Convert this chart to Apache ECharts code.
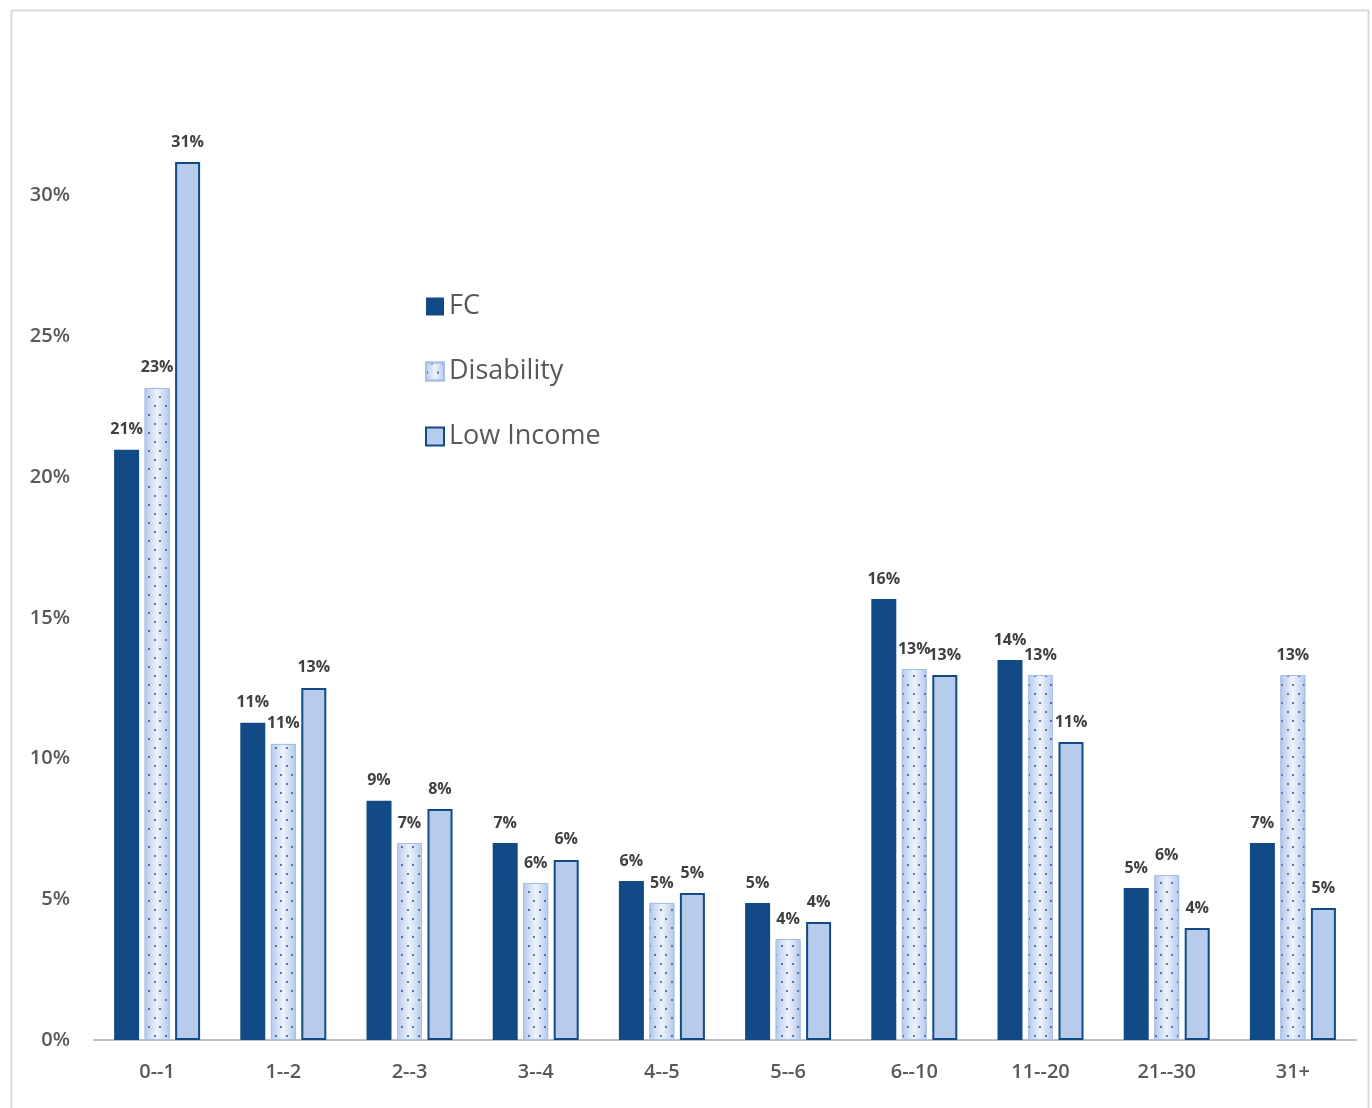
<!DOCTYPE html>
<html>
<head>
<meta charset="utf-8">
<script src="https://cdn.jsdelivr.net/npm/echarts@6/dist/echarts.min.js"></script>
<style>
  html, body { margin: 0; padding: 0; background: #fff; }
  #chart { width: 1372px; height: 1108px; }
</style>
</head>
<body>
<div id="chart"></div>
<script>
// categories (years)
var categories = ["0--1", "1--2", "2--3", "3--4", "4--5", "5--6", "6--10", "11--20", "21--30", "31+"];
// shares, in percent
var fcData = [20.97, 11.27, 8.5, 7.0, 5.65, 4.87, 15.67, 13.5, 5.4, 7.0];
var disabilityData = [23.17, 10.52, 7.0, 5.58, 4.87, 3.59, 13.18, 12.97, 5.86, 12.97];
var lowIncomeData = [31.2, 12.51, 8.21, 6.4, 5.22, 4.19, 12.97, 10.59, 3.98, 4.69];
var yTicks = [0, 5, 10, 15, 20, 25, 30];

var font = "'Open Sans', 'Noto Sans', sans-serif";
var chart = echarts.init(document.getElementById("chart"));

var labelCfg = {
  show: true,
  position: "top",
  distance: 12,
  color: "#404040",
  fontFamily: font,
  fontWeight: "bold",
  fontSize: 16,
  formatter: function (p) {
    return Math.round(p.value) + "%";
  },
};

chart.setOption({
  animation: false,
  graphic: [{
    type: "rect",
    left: 9,
    top: 8,
    shape: { width: 1357, height: 1120 },
    style: { fill: "none", stroke: "#d9d9d9", lineWidth: 2 },
    silent: true,
  }],
  grid: {
    left: 94,
    right: 16,
    top: 55,
    bottom: 68,
    containLabel: false,
  },
  legend: {
    orient: "vertical",
    left: 420,
    top: 288,
    icon: "rect",
    itemWidth: 18,
    itemHeight: 18,
    itemGap: 38,
    textStyle: {
      color: "#595959",
      fontFamily: font,
      fontSize: 27,
    },
    data: ["FC", "Disability", "Low Income"],
  },
  xAxis: {
    type: "category",
    data: categories,
    axisTick: { show: false },
    axisLine: {
      show: true,
      lineStyle: { color: "#bfbfbf", width: 2 },
    },
    axisLabel: {
      color: "#595959",
      fontFamily: font,
      fontSize: 20,
      fontWeight: 600,
      margin: 22,
    },
  },
  yAxis: {
    type: "value",
    min: 0,
    max: 35,
    interval: 5,
    splitLine: { show: false },
    axisLine: { show: false },
    axisTick: { show: false },
    axisLabel: {
      showMaxLabel: false,
      color: "#595959",
      fontFamily: font,
      fontSize: 20,
      fontWeight: 600,
      margin: 24,
      formatter: function (v) {
        return yTicks.indexOf(v) >= 0 ? v + "%" : "";
      },
    },
  },
  series: [
    {
      name: "FC",
      type: "bar",
      barWidth: 25,
      barGap: "22%",
      data: fcData,
      itemStyle: { color: "#114a84" },
      label: labelCfg,
    },
    {
      name: "Disability",
      type: "bar",
      barWidth: 25,
      barGap: "22%",
      data: disabilityData,
      itemStyle: {
        color: {
          type: "linear", x: 0, y: 0, x2: 1, y2: 0,
          colorStops: [
            { offset: 0, color: "#b3c8ec" },
            { offset: 0.5, color: "#eef3fb" },
            { offset: 1, color: "#b3c8ec" },
          ],
        },
        borderColor: "#a9c0e6",
        borderWidth: 1,
        decal: {
          symbol: "circle",
          symbolSize: 1,
          color: "#2a5590",
          dashArrayX: [[2, 9], [0, 5, 2, 4]],
          dashArrayY: [2, 7],
          rotation: 0,
        },
      },
      label: labelCfg,
    },
    {
      name: "Low Income",
      type: "bar",
      barWidth: 25,
      barGap: "22%",
      data: lowIncomeData,
      itemStyle: {
        color: "#b7cbea",
        borderColor: "#124a84",
        borderWidth: 2,
      },
      label: labelCfg,
    },
  ],
});
</script>
</body>
</html>
